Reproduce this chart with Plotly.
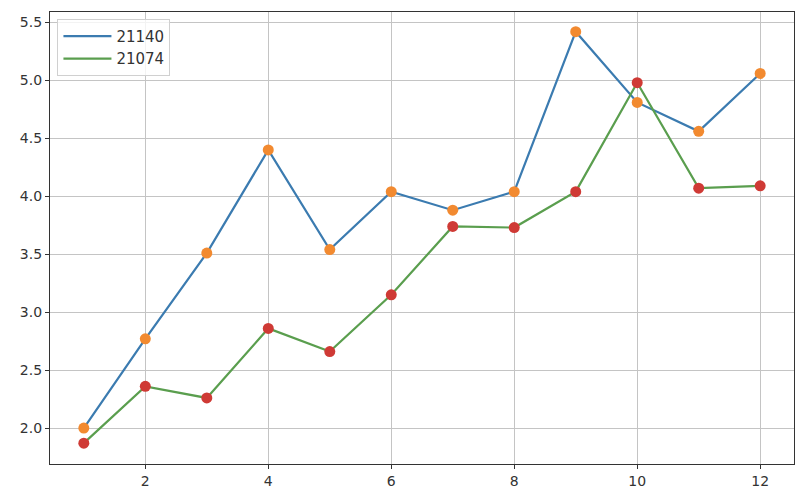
import plotly.graph_objects as go

x_vals = [1, 2, 3, 4, 5, 6, 7, 8, 9, 10, 11, 12]
series_21140 = [2.00, 2.77, 3.51, 4.40, 3.54, 4.04, 3.88, 4.04, 5.42, 4.81, 4.56, 5.06]
series_21074 = [1.87, 2.36, 2.26, 2.86, 2.66, 3.15, 3.74, 3.73, 4.04, 4.98, 4.07, 4.09]
names = ["21140", "21074"]
y_ticks = [2.0, 2.5, 3.0, 3.5, 4.0, 4.5, 5.0, 5.5]
x_ticks = [2, 4, 6, 8, 10, 12]

fig = go.Figure()
fig.add_trace(go.Scatter(x=x_vals, y=series_21140, mode="lines", name=names[0],
                         line=dict(color="#3b7bb0", width=2.2)))
fig.add_trace(go.Scatter(x=x_vals, y=series_21074, mode="lines", name=names[1],
                         line=dict(color="#5a9e4e", width=2.2)))
fig.add_trace(go.Scatter(x=x_vals, y=series_21140, mode="markers", showlegend=False,
                         marker=dict(color="#f28a30", size=11)))
fig.add_trace(go.Scatter(x=x_vals, y=series_21074, mode="markers", showlegend=False,
                         marker=dict(color="#cf3a35", size=11)))

axis_common = dict(showline=True, linecolor="#333333", linewidth=1.2, mirror=True,
                   showgrid=True, gridcolor="#c4c4c4", gridwidth=1.2,
                   ticks="outside", ticklen=4, tickcolor="#333333",
                   tickfont=dict(family="DejaVu Sans", size=14, color="#333333"),
                   zeroline=False, automargin=False)
fig.update_xaxes(range=[0.45, 12.55], tickvals=x_ticks, **axis_common)
fig.update_yaxes(range=[1.69, 5.59], tickvals=y_ticks, tickformat=".1f", **axis_common)

fig.update_layout(
    width=797, height=488,
    margin=dict(l=42, r=11, t=4, b=32),
    plot_bgcolor="white", paper_bgcolor="white",
    font=dict(family="DejaVu Sans", size=14, color="#333333"),
    legend=dict(x=0.01, y=0.985, xanchor="left", yanchor="top",
                bgcolor="rgba(255,255,255,0.8)", bordercolor="#d0d0d0", borderwidth=1,
                itemwidth=48,
                font=dict(family="DejaVu Sans", size=15, color="#333333")),
    showlegend=True,
)

fig.write_html("out.html")
